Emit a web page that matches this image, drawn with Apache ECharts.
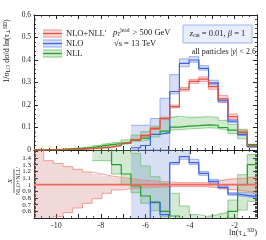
<!DOCTYPE html>
<html><head><meta charset="utf-8">
<script src="https://cdn.jsdelivr.net/npm/echarts@6/dist/echarts.min.js"></script>
<style>html,body{margin:0;padding:0;background:#fff}#c{width:266px;height:240px}</style>
</head><body><div id="c"></div>
<script>
// bin edges in ln(tau_perp^SD)
const edges = [-11.000,-10.565,-10.130,-9.696,-9.261,-8.826,-8.391,-7.957,-7.522,-7.087,-6.652,-6.217,-5.783,-5.348,-4.913,-4.478,-4.043,-3.609,-3.174,-2.739,-2.304,-1.870,-1.435,-1.000];
const xTickLabels = [-10,-8,-6,-4,-2];

// main panel: NLO+NLL'
const nloNll   = [0.0005,0.001,0.0015,0.0025,0.004,0.006,0.009,0.013,0.020,0.030,0.045,0.064,0.095,0.140,0.193,0.270,0.305,0.315,0.282,0.227,0.148,0.080,0.018];
const nloNllLo = [0.0002,0.0004,0.0008,0.0015,0.0026,0.0043,0.0071,0.0113,0.0184,0.0282,0.0428,0.0614,0.091,0.135,0.187,0.262,0.296,0.305,0.270,0.212,0.137,0.072,0.016];
const nloNllHi = [0.0009,0.0014,0.0020,0.0032,0.0049,0.0071,0.0104,0.0147,0.0222,0.0327,0.0482,0.068,0.100,0.146,0.200,0.278,0.314,0.325,0.295,0.242,0.160,0.088,0.020];
// main panel: NLO
const nlo   = [null,null,null,null,null,null,null,null,null,null,0.010,0.020,0.070,0.077,0.260,0.385,0.400,0.363,0.298,0.219,0.128,0.068,0.015];
const nloLo = [null,null,null,null,null,null,null,null,null,null,0,0,0,0,0.250,0.370,0.390,0.355,0.290,0.212,0.122,0.064,0.013];
const nloHi = [null,null,null,null,null,null,null,null,null,null,0.110,0.110,0.140,0.230,0.335,0.405,0.415,0.375,0.310,0.228,0.135,0.075,0.020];
// main panel: NLL
const nll   = [0.001,0.002,0.003,0.005,0.007,0.011,0.017,0.024,0.028,0.035,0.044,0.053,0.069,0.084,0.102,0.106,0.108,0.112,0.110,0.100,0.088,0.079,0.024];
const nllLo = [0.0007,0.0014,0.0022,0.0037,0.0053,0.0084,0.0125,0.0177,0.0232,0.030,0.039,0.046,0.058,0.073,0.090,0.094,0.096,0.099,0.097,0.089,0.074,0.050,0.013];
const nllHi = [0.0014,0.0028,0.0042,0.0068,0.0095,0.0148,0.0225,0.031,0.036,0.045,0.066,0.082,0.106,0.143,0.150,0.145,0.146,0.148,0.145,0.132,0.114,0.092,0.026];

// ratio panel (X / NLO+NLL')
const rRed   = [1,1,1,1,1,1,1,1,1,1,1,1,1,1,1,1,1,1,1,1,1,1,1];
const rRedLo = [0.30,0.40,0.52,0.58,0.65,0.72,0.79,0.87,0.92,0.94,0.95,0.96,0.96,0.97,0.97,0.97,0.97,0.97,0.95,0.93,0.92,0.90,0.88];
const rRedHi = [1.70,1.36,1.32,1.27,1.23,1.19,1.16,1.13,1.11,1.09,1.07,1.06,1.05,1.04,1.03,1.03,1.03,1.03,1.05,1.08,1.09,1.10,1.12];
const rBlue   = [null,null,null,null,null,null,null,null,null,null,0.30,0.35,0.74,0.55,1.33,1.42,1.33,1.17,1.05,0.96,0.86,0.84,0.82];
const rBlueLo = [null,null,null,null,null,null,null,null,null,null,0.20,0.20,0.20,0.20,1.30,1.38,1.30,1.14,1.02,0.94,0.84,0.82,0.80];
const rBlueHi = [null,null,null,null,null,null,null,null,null,null,1.70,1.70,1.70,1.70,1.70,1.70,1.38,1.20,1.08,0.99,0.88,0.88,0.86];
const rGreen   = [2,2,2,2,2,2,2,2,1.30,1.16,0.98,0.83,0.73,0.60,0.53,0.45,0.40,0.40,0.40,0.42,0.60,1.00,1.30];
const rGreenLo = [null,null,null,null,null,null,1.36,1.36,1.16,1.00,0.88,0.72,0.61,0.52,0.30,0.30,0.30,0.30,0.30,0.30,0.50,0.62,0.75];
const rGreenHi = [null,null,null,null,null,null,2.00,2.00,2.00,2.00,1.47,1.28,1.12,1.02,0.87,0.68,0.55,0.52,0.55,0.58,0.77,1.15,1.45];

const C = {
  red:  {line:'#ea5040', edge:'rgba(240,120,105,0.75)', fill:'rgba(210,120,120,0.28)'},
  blue: {line:'#3d62e6', edge:'rgba(130,155,240,0.85)', fill:'rgba(100,130,225,0.26)'},
  green:{line:'#22a022', edge:'rgba(110,195,110,0.85)', fill:'rgba(80,170,80,0.26)'}
};
const SERIF = '"Liberation Serif","DejaVu Serif",serif';
const INK = '#222';

function stepPts(vals){
  const pts=[]; let last=-1;
  for(let k=0;k<vals.length;k++){ if(vals[k]==null) continue; pts.push([edges[k],vals[k]]); last=k; }
  if(last>=0) pts.push([edges[last+1],vals[last]]);
  return pts;
}
function bandData(lo,hi){
  const out=[];
  for(let k=0;k<lo.length;k++){ if(lo[k]==null) continue; out.push([edges[k],edges[k+1],lo[k],hi[k]]); }
  return out;
}
function bandSeries(lo,hi,col,xi,yi){
  return {type:'custom', xAxisIndex:xi, yAxisIndex:yi, silent:true, animation:false,
    data:bandData(lo,hi), encode:{x:[0,1], y:[2,3]},
    renderItem:function(params,api){
      const a=api.coord([api.value(0),api.value(3)]);
      const b=api.coord([api.value(1),api.value(2)]);
      const cs=params.coordSys;
      const r=echarts.graphic.clipRectByRect({x:a[0],y:a[1],width:b[0]-a[0],height:b[1]-a[1]},{x:cs.x,y:cs.y,width:cs.width,height:cs.height});
      if(!r) return null;
      return {type:'rect', shape:r, style:{fill:col.fill}};
    }};
}
function lineSeries(vals,color,w,xi,yi){
  return {type:'line', xAxisIndex:xi, yAxisIndex:yi, data:stepPts(vals), step:'end', showSymbol:false, silent:true,
    animation:false, clip:true, lineStyle:{color:color,width:w}};
}
function group(mainLo,mainHi,main,col,xi,yi){
  return [bandSeries(mainLo,mainHi,col,xi,yi), lineSeries(mainLo,col.edge,0.9,xi,yi), lineSeries(mainHi,col.edge,0.9,xi,yi)];
}
const ls={color:INK,width:1};
function xAx(g,pos,labels){
  return {type:'value', gridIndex:g, position:pos, min:-11, max:-1, interval:1,
    axisLine:{show:true,onZero:false,lineStyle:ls},
    axisTick:{show:true,inside:true,length:4,lineStyle:ls},
    minorTick:{show:true,splitNumber:3,length:2,lineStyle:{color:INK,width:0.8}},
    splitLine:{show:false},
    axisLabel:{show:labels, margin:4, fontFamily:SERIF, fontSize:8, color:INK,
      formatter:v=>xTickLabels.some(t=>Math.abs(t-v)<1e-6)?String(v):''}};
}
function yAx(g,pos,min,max,labels,fmt,fs){
  return {type:'value', gridIndex:g, position:pos, min:min, max:max, interval:0.1,
    axisLine:{show:true,onZero:false,lineStyle:ls},
    axisTick:{show:true,inside:true,length:4,lineStyle:ls},
    minorTick:{show:true,splitNumber:5,length:2,lineStyle:{color:INK,width:0.8}},
    splitLine:{show:false},
    axisLabel:{show:labels, margin:3, fontFamily:SERIF, fontSize:fs, color:INK, formatter:fmt, showMaxLabel:true}};
}
const mainFmt=v=>Math.abs(v)<1e-9?'0':v.toFixed(1);
const ratFmt=v=>{ if(v>1.45) return ''; const s=Math.round(v*10)/10; return s===1?'1':s.toFixed(1); };

const series=[].concat(
  group(nllLo,nllHi,nll,C.green,0,0),
  group(nloLo,nloHi,nlo,C.blue,0,0),
  group(nloNllLo,nloNllHi,nloNll,C.red,0,0),
  [lineSeries(nll,C.green.line,1.2,0,0), lineSeries(nlo,C.blue.line,1.2,0,0), lineSeries(nloNll,C.red.line,1.2,0,0)],
  group(rGreenLo,rGreenHi,rGreen,C.green,2,2),
  group(rBlueLo,rBlueHi,rBlue,C.blue,2,2),
  group(rRedLo,rRedHi,rRed,C.red,2,2),
  [lineSeries(rGreen,C.green.line,1.2,2,2), lineSeries(rBlue,C.blue.line,1.2,2,2), lineSeries(rRed,'#ef6a5a',1.8,2,2)]
);

const legendItems=[['NLO+NLL\u2032',C.red,33.5],['NLO',C.blue,43.5],['NLL',C.green,53.5]];
const graphics=[];
legendItems.forEach(([t,col,c])=>{
  graphics.push({type:'rect',shape:{x:43,y:c-3.5,width:19,height:7},style:{fill:col.fill},silent:true});
  graphics.push({type:'line',shape:{x1:43,y1:c-3.5,x2:62,y2:c-3.5},style:{stroke:col.edge,lineWidth:1},silent:true});
  graphics.push({type:'line',shape:{x1:43,y1:c+3.5,x2:62,y2:c+3.5},style:{stroke:col.edge,lineWidth:1},silent:true});
  graphics.push({type:'line',shape:{x1:43,y1:c,x2:62,y2:c},style:{stroke:col.line,lineWidth:1.3},silent:true});
  graphics.push({type:'text',x:66,y:c,style:{text:t,font:'8.5px '+SERIF,fill:INK,verticalAlign:'middle'},silent:true});
});
graphics.push({type:'text',x:113,y:33,silent:true,style:{
  text:'{i|p}{s|T}{u|lead} > 500 GeV', fill:INK, verticalAlign:'middle', font:'8.5px '+SERIF,
  rich:{i:{fontFamily:SERIF,fontSize:8.5,fontStyle:'italic'},s:{fontFamily:SERIF,fontSize:5.5,fontStyle:'italic',verticalAlign:'bottom',padding:[4,0,0,0]},u:{fontFamily:SERIF,fontSize:5.5,verticalAlign:'top',padding:[0,1,4,0]}}}});
graphics.push({type:'text',x:114,y:44,silent:true,style:{text:'\u221As = 13 TeV',fill:INK,verticalAlign:'middle',font:'8.5px '+SERIF}});
graphics.push({type:'rect',shape:{x:183,y:25,width:69,height:18},style:{fill:'#e9eefc',stroke:'#9fb3f0',lineWidth:1},silent:true});
graphics.push({type:'text',x:217.5,y:34,silent:true,style:{
  text:'{i|z}{s|cut} = 0.01, {i|\u03B2} = 1', fill:INK, align:'center', verticalAlign:'middle', font:'8.5px '+SERIF,
  rich:{i:{fontFamily:SERIF,fontSize:8.5,fontStyle:'italic'},s:{fontFamily:SERIF,fontSize:5.5,verticalAlign:'bottom',padding:[4,0,0,0]}}}});
graphics.push({type:'text',x:256,y:52,silent:true,z:100,style:{
  text:'all particles |{i|y}| < 2.6', fill:INK, align:'right', verticalAlign:'middle', font:'8px '+SERIF,
  rich:{i:{fontFamily:SERIF,fontSize:8,fontStyle:'italic'}}}});
// y axis title (main)
graphics.push({type:'text',x:7,y:51,rotation:Math.PI/2,silent:true,style:{
  text:'1/\u03C3{s|LO} d\u03C3/d ln(\u03C4{s|\u22A5}{u|SD})', fill:INK, align:'center', verticalAlign:'middle', font:'8px '+SERIF,
  rich:{s:{fontFamily:SERIF,fontSize:5.5,verticalAlign:'bottom',padding:[3,0,0,0]},u:{fontFamily:SERIF,fontSize:5.5,verticalAlign:'top',padding:[0,0,3,0]}}}});
// ratio y title
graphics.push({type:'group',x:14,y:181,rotation:Math.PI/2,silent:true,children:[
  {type:'text',x:0,y:-4,style:{text:'X',font:'italic 7px '+SERIF,fill:INK,align:'center',verticalAlign:'middle'}},
  {type:'line',shape:{x1:-12,y1:0,x2:12,y2:0},style:{stroke:INK,lineWidth:0.7}},
  {type:'text',x:0,y:4,style:{text:'NLO+NLL\u2032',font:'6px '+SERIF,fill:INK,align:'center',verticalAlign:'middle'}}
]});
// x axis title
graphics.push({type:'text',x:257,y:233,silent:true,style:{
  text:'ln(\u03C4{s|\u22A5}{u|SD})', fill:INK, align:'right', verticalAlign:'middle', font:'8.5px '+SERIF,
  rich:{s:{fontFamily:SERIF,fontSize:5.5,verticalAlign:'bottom',padding:[4,0,0,0]},u:{fontFamily:SERIF,fontSize:5.5,verticalAlign:'top',padding:[0,0,4,0]}}}});

const chart=echarts.init(document.getElementById('c'),null,{renderer:'canvas'});
chart.setOption({
  animation:false,
  backgroundColor:'#fff',
  grid:[{left:34,right:9,top:15,height:135},{left:34,right:9,top:150,height:68}],
  xAxis:[xAx(0,'bottom',false),xAx(0,'top',false),xAx(1,'bottom',true),xAx(1,'top',false)],
  yAxis:[yAx(0,'left',0,0.6,true,mainFmt,7.5),yAx(0,'right',0,0.6,false,mainFmt,7.5),
         yAx(1,'left',0.5,1.52,true,ratFmt,7),yAx(1,'right',0.5,1.52,false,ratFmt,7)],
  series:series,
  graphic:graphics
});
</script></body></html>
